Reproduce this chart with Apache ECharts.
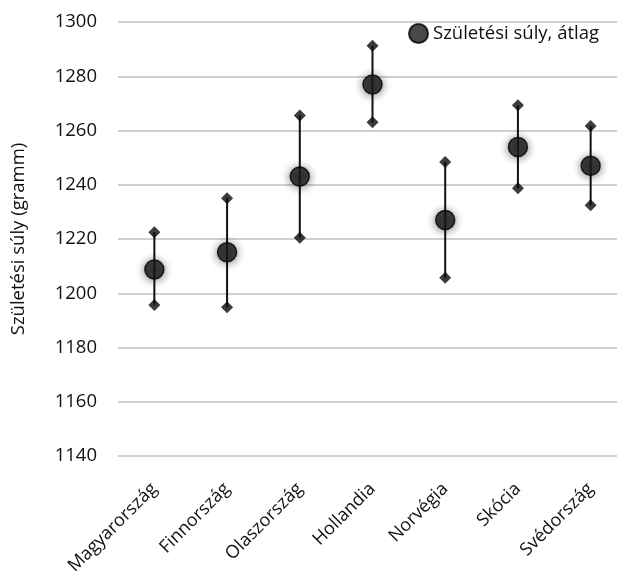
<!DOCTYPE html>
<html><head><meta charset="utf-8">
<script src="https://cdn.jsdelivr.net/npm/echarts@6/dist/echarts.min.js"></script>
<style>html,body{margin:0;padding:0;background:#fff}#c{width:617px;height:574px}</style>
</head><body><div id="c"></div>
<script>
const categories = ['Magyarország','Finnország','Olaszország','Hollandia','Norvégia','Skócia','Svédország'];
const meanValues = [1208.8, 1215.1, 1243.0, 1277.0, 1227.0, 1253.9, 1247.0];
const upperValues = [1222.5, 1235.0, 1265.5, 1291.2, 1248.4, 1269.3, 1261.7];
const lowerValues = [1195.7, 1194.8, 1220.5, 1263.0, 1205.7, 1238.7, 1232.4];
const yTicks = [1140, 1160, 1180, 1200, 1220, 1240, 1260, 1280, 1300];
const seriesName = 'Születési súly, átlag';
const yName = 'Születési súly (gramm)';

const FONT = '"Open Sans", sans-serif';
const chart = echarts.init(document.getElementById('c'));
const errData = categories.map((c, i) => [i, lowerValues[i], upperValues[i]]);
chart.setOption({
  animation: false,
  backgroundColor: '#fff',
  grid: { left: 118, top: 22, width: 509, bottom: 118, containLabel: false, outerBoundsMode: 'none' },
  legend: {
    data: [seriesName], left: 403, top: 18, icon: 'circle', itemWidth: 19, itemHeight: 19, itemGap: 6,
    textStyle: { fontFamily: FONT, fontSize: 18.5, color: '#111' }
  },
  xAxis: {
    type: 'category', data: categories, boundaryGap: true,
    axisLine: { show: false }, axisTick: { show: false },
    axisLabel: { rotate: 45, margin: 30, fontFamily: FONT, fontSize: 18, color: '#111', interval: 0 }
  },
  yAxis: {
    type: 'value', min: yTicks[0], max: yTicks[yTicks.length - 1], interval: 20,
    name: yName, nameLocation: 'middle', nameGap: 90,
    nameTextStyle: { fontFamily: FONT, fontSize: 18.5, color: '#111' },
    axisLine: { show: false }, axisTick: { show: false },
    axisLabel: { margin: 21, fontFamily: FONT, fontSize: 18.5, color: '#111', formatter: v => String(v) },
    splitLine: { lineStyle: { color: '#cfcfcf', width: 2 } }
  },
  series: [
    {
      type: 'custom', name: 'err', data: errData, z: 2,
      renderItem: function (params, api) {
        const x = api.value(0);
        const p1 = api.coord([x, api.value(1)]);
        const p2 = api.coord([x, api.value(2)]);
        return { type: 'line', shape: { x1: p1[0], y1: p1[1], x2: p2[0], y2: p2[1] },
          style: { stroke: '#111', lineWidth: 2 } };
      }
    },
    { type: 'scatter', name: 'upper', data: upperValues, symbol: 'diamond', symbolSize: 12, z: 3,
      itemStyle: { color: '#0a0a0a' } },
    { type: 'scatter', name: 'lower', data: lowerValues, symbol: 'diamond', symbolSize: 12, z: 3,
      itemStyle: { color: '#0a0a0a' } },
    { type: 'scatter', name: seriesName, data: meanValues, symbol: 'circle', symbolSize: 19, z: 4,
      itemStyle: { color: '#1c1c1c', borderColor: '#000', borderWidth: 1.5,
        shadowBlur: 8, shadowColor: 'rgba(0,0,0,0.6)', shadowOffsetX: 0, shadowOffsetY: 1 } }
  ]
});
</script></body></html>
